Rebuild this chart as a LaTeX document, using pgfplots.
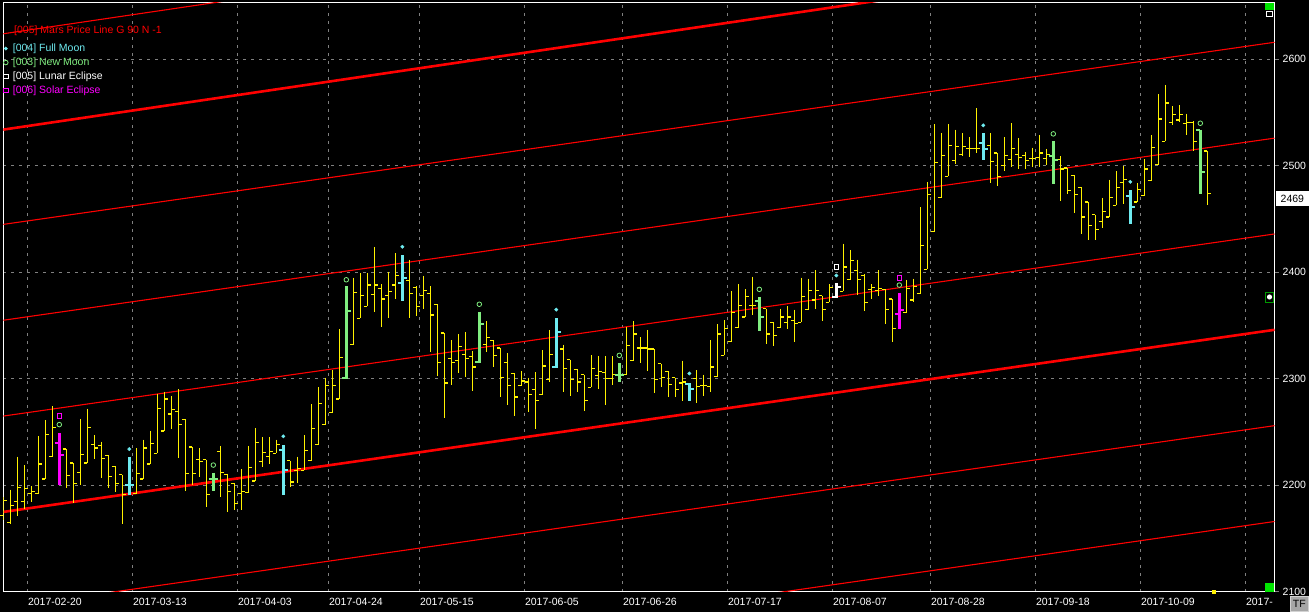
\documentclass[border=0pt]{standalone}
\usepackage{fontspec}
\setmainfont{Liberation Sans}
\usepackage{pgfplots}
\usepackage{pgfplotstable}
\pgfplotsset{compat=1.18}

\definecolor{fm}{RGB}{110,235,240}
\definecolor{nm}{RGB}{128,238,128}
\definecolor{mg}{RGB}{255,0,255}
\definecolor{gridgray}{RGB}{128,128,128}
\definecolor{uigreen}{RGB}{0,230,0}

% open / close ticks of an OHLC bar
\pgfdeclareplotmark{otick}{\pgfpathmoveto{\pgfqpoint{-\pgfplotmarksize}{0pt}}\pgfpathlineto{\pgfqpoint{0pt}{0pt}}\pgfusepathqstroke}
\pgfdeclareplotmark{ctick}{\pgfpathmoveto{\pgfqpoint{0pt}{0pt}}\pgfpathlineto{\pgfqpoint{\pgfplotmarksize}{0pt}}\pgfusepathqstroke}

% i = trading day, t: 0 plain, 1 full moon, 2 new moon, 3 solar eclipse, 4 lunar eclipse
\pgfplotstableread{
i o h l c t
0 2172 2189 2167 2186 0
1 2165 2196 2164 2181 0
2 2185 2227 2171 2198 0
3 2185 2219 2178 2197 0
4 2192 2199 2184 2194 0
5 2192 2246 2192 2220 0
6 2206 2261 2206 2248 0
7 2227 2274 2227 2254 0
8 2240 2249 2200 2228 3
9 2234 2234 2197 2209 0
10 2221 2221 2183 2202 0
11 2212 2262 2200 2229 0
12 2221 2272 2221 2254 0
13 2238 2247 2225 2235 0
14 2237 2241 2207 2225 0
15 2228 2228 2197 2208 0
16 2218 2218 2194 2202 0
17 2210 2210 2164 2191 0
18 2200 2227 2191 2200 1
19 2192 2235 2192 2211 0
20 2206 2243 2206 2235 0
21 2220 2251 2220 2239 0
22 2230 2286 2230 2272 0
23 2251 2288 2251 2281 0
24 2267 2284 2253 2271 0
25 2269 2290 2226 2257 0
26 2262 2262 2195 2211 0
27 2236 2236 2200 2211 0
28 2224 2235 2208 2222 0
29 2224 2224 2180 2191 0
30 2206 2212 2195 2206 2
31 2232 2237 2189 2212 0
32 2210 2211 2175 2194 0
33 2202 2202 2177 2183 0
34 2192 2215 2177 2194 0
35 2193 2237 2193 2217 0
36 2204 2254 2204 2240 0
37 2222 2245 2217 2231 0
38 2227 2245 2220 2232 0
39 2230 2243 2230 2238 0
40 2233 2238 2191 2214 1
41 2223 2223 2198 2203 0
42 2214 2227 2202 2216 0
43 2214 2247 2214 2233 0
44 2223 2276 2223 2253 0
45 2238 2292 2238 2277 0
46 2257 2301 2257 2294 0
47 2268 2308 2268 2294 0
48 2281 2347 2281 2320 0
49 2301 2387 2300 2364 2
50 2332 2395 2332 2381 0
51 2357 2399 2357 2378 0
52 2368 2399 2368 2388 0
53 2379 2424 2363 2388 0
54 2385 2389 2349 2375 0
55 2378 2400 2357 2382 0
56 2388 2418 2375 2397 0
57 2390 2416 2373 2395 1
58 2392 2412 2357 2380 0
59 2386 2387 2359 2368 0
60 2378 2397 2366 2383 0
61 2380 2387 2325 2360 0
62 2370 2370 2303 2315 0
63 2343 2343 2263 2296 0
64 2319 2336 2294 2315 0
65 2317 2342 2305 2330 0
66 2323 2344 2302 2319 0
67 2321 2326 2289 2311 0
68 2316 2363 2315 2351 2
69 2332 2354 2325 2339 0
70 2336 2336 2311 2322 0
71 2329 2329 2283 2301 0
72 2315 2324 2275 2294 0
73 2305 2305 2265 2283 0
74 2294 2307 2293 2298 0
75 2297 2301 2269 2285 0
76 2290 2306 2253 2280 0
77 2285 2327 2285 2312 0
78 2299 2346 2297 2323 0
79 2311 2357 2310 2344 1
80 2328 2332 2288 2310 0
81 2318 2318 2284 2299 0
82 2309 2309 2288 2297 0
83 2304 2304 2270 2280 0
84 2292 2322 2292 2310 0
85 2303 2321 2290 2307 0
86 2306 2321 2275 2300 0
87 2300 2321 2294 2304 0
88 2304 2315 2297 2304 2
89 2304 2349 2304 2331 0
90 2317 2354 2317 2342 0
91 2329 2339 2315 2329 0
92 2329 2346 2307 2328 0
93 2328 2328 2287 2299 0
94 2314 2314 2292 2301 0
95 2307 2307 2283 2295 0
96 2301 2301 2283 2290 0
97 2296 2317 2279 2297 0
98 2295 2296 2279 2290 1
99 2300 2308 2277 2293 0
100 2294 2304 2284 2294 0
101 2293 2336 2288 2311 0
102 2302 2351 2302 2342 0
103 2322 2355 2322 2347 0
104 2335 2382 2335 2362 0
105 2348 2389 2348 2369 0
106 2358 2384 2358 2377 0
107 2369 2396 2360 2369 0
108 2373 2377 2345 2358 2
109 2366 2366 2333 2342 0
110 2353 2353 2331 2341 0
111 2348 2366 2348 2358 0
112 2353 2368 2347 2358 0
113 2355 2365 2335 2352 0
114 2353 2395 2353 2377 0
115 2365 2394 2365 2383 0
116 2374 2402 2366 2383 0
117 2378 2378 2354 2365 0
118 2372 2389 2372 2386 0
119 2377 2390 2376 2386 4
120 2382 2427 2382 2405 0
121 2393 2421 2393 2411 0
122 2402 2412 2379 2393 0
123 2397 2398 2364 2372 0
124 2384 2389 2375 2386 0
125 2383 2402 2378 2385 0
126 2384 2384 2351 2365 0
127 2375 2375 2335 2347 0
128 2361 2381 2347 2365 3
129 2362 2393 2362 2385 0
130 2374 2394 2372 2387 0
131 2380 2461 2380 2425 0
132 2403 2485 2403 2473 0
133 2438 2539 2438 2503 0
134 2470 2531 2470 2510 0
135 2490 2539 2490 2519 0
136 2505 2534 2502 2518 0
137 2511 2531 2509 2518 0
138 2516 2527 2508 2516 0
139 2516 2554 2512 2516 0
140 2521 2531 2505 2516 1
141 2519 2531 2484 2504 0
142 2512 2512 2481 2490 0
143 2500 2527 2495 2510 0
144 2506 2540 2499 2516 0
145 2511 2526 2497 2508 0
146 2510 2513 2497 2505 0
147 2507 2517 2499 2507 0
148 2508 2529 2499 2512 0
149 2507 2516 2501 2511 0
150 2509 2523 2483 2505 2
151 2506 2509 2467 2497 0
152 2498 2498 2474 2477 0
153 2491 2491 2456 2473 0
154 2480 2480 2436 2452 0
155 2466 2466 2430 2444 0
156 2454 2454 2430 2440 0
157 2448 2470 2442 2457 0
158 2452 2487 2452 2470 0
159 2463 2495 2463 2480 0
160 2484 2500 2464 2487 0
161 2472 2477 2445 2461 1
162 2466 2484 2466 2478 0
163 2472 2506 2472 2497 0
164 2486 2529 2486 2517 0
165 2501 2567 2501 2544 0
166 2523 2576 2523 2559 0
167 2541 2556 2538 2548 0
168 2543 2557 2541 2548 0
169 2540 2549 2529 2541 0
170 2541 2542 2514 2523 0
171 2534 2534 2474 2494 2
172 2514 2514 2463 2474 0
}\ohlc

\pgfplotstableread{
i y
18 2234
40 2246
57 2424
79 2365
98 2305
119 2397
140 2538
161 2485
}\fullmoon

\pgfplotstableread{
i y
8 2257
30 2219
49 2393
68 2370
88 2322
108 2384
128 2388
150 2530
171 2540
}\newmoon

\pgfplotstableread{
i y
119 2405
}\lunar

\pgfplotstableread{
i y
8 2265
128 2395
}\solar

% type, colour, bar width, tick width, tick length
\newcommand\ohlcbars[5]{%
  \addplot[draw=none, mark=none, forget plot,
    restrict expr to domain={\thisrow{t}}{#1:#1},
    error bars/.cd, y dir=minus, y explicit, error mark=none,
    error bar style={draw=#2, line width=#3, solid}]
    table[x=i, y=h, y error expr=\thisrow{h}-\thisrow{l}] {\ohlc};
  \addplot[#2, only marks, mark=otick, mark size=#5, line width=#4, forget plot,
    restrict expr to domain={\thisrow{t}}{#1:#1}]
    table[x=i, y=o] {\ohlc};
  \addplot[#2, only marks, mark=ctick, mark size=#5, line width=#4, forget plot,
    restrict expr to domain={\thisrow{t}}{#1:#1}]
    table[x=i, y=c] {\ohlc};
}

\newcommand\chartfont{\fontsize{10.5bp}{12.5bp}\selectfont}

\begin{document}
\begin{tikzpicture}
\useasboundingbox (0,0) rectangle (1309bp,612bp);
\fill[black] (0,0) rectangle (1309bp,612bp);
\begin{axis}[
  name=main,
  at={(3.3bp,20bp)}, anchor=south west,
  scale only axis, width=1271.2bp, height=589bp,
  xmin=0, xmax=181.6, ymin=2099.8, ymax=2652.9,
  axis line style={white, line width=1bp},
  xtick={3.43,18.43,33.43,46.43,59.43,74.43,88.43,103.43,118.43,132.43,147.43,162.43,177.43},
  xticklabels={2017-02-20,2017-03-13,2017-04-03,2017-04-24,2017-05-15,2017-06-05,2017-06-26,2017-07-17,2017-08-07,2017-08-28,2017-09-18,2017-10-09,2017-},
  ytick={2100,2200,2300,2400,2500,2600},
  ytick pos=right, yticklabel pos=right,
  xtick style={draw=none},
  ytick style={gridgray, line width=0.8bp},
  major tick length=4bp, tick align=outside,
  grid=major,
  major grid style={gridgray, line width=0.8bp, dash pattern=on 3bp off 5bp},
  tick label style={text=white, font=\chartfont},
  xticklabel style={anchor=north west, inner sep=0pt, yshift=-2bp, xshift=0.5bp},
  yticklabel style={anchor=west, inner sep=0pt, xshift=4bp},
  /pgf/number format/assume math mode=true,
  /pgf/number format/1000 sep={},
  legend style={at={(0,1)}, anchor=north west, yshift=-40bp, xshift=0bp,
    draw=none, fill=none, text=white, font=\chartfont,
    inner sep=0pt, row sep=3.3bp, nodes={inner sep=0.8bp},
    /tikz/every odd column/.append style={column sep=4bp}},
  legend cell align=left,
  legend image code/.code={\draw[#1] plot coordinates {(0bp,0bp)};},
]
% Mars price lines, 90 points apart
\addplot[red, line width=1.1bp, forget plot] coordinates {(0,1995) (181.6,2166)};
\addplot[red, line width=1.1bp, forget plot] coordinates {(0,2085) (181.6,2256)};
\addplot[red, line width=2.6bp, forget plot] coordinates {(0,2175) (181.6,2346)};
\addplot[red, line width=1.1bp, forget plot] coordinates {(0,2265) (181.6,2436)};
\addplot[red, line width=1.1bp, forget plot] coordinates {(0,2355) (181.6,2526)};
\addplot[red, line width=1.1bp, forget plot] coordinates {(0,2445) (181.6,2616)};
\addplot[red, line width=2.6bp, forget plot] coordinates {(0,2534) (181.6,2710)};
\addplot[red, line width=1.1bp, forget plot] coordinates {(0,2624) (181.6,2800)};

\ohlcbars{0}{yellow}{1.2bp}{1.2bp}{3.5bp}
\ohlcbars{1}{fm}{3bp}{2bp}{4.5bp}
\ohlcbars{2}{nm}{3bp}{2bp}{4.5bp}
\ohlcbars{3}{mg}{3bp}{2bp}{4.5bp}
\ohlcbars{4}{white}{3bp}{2bp}{4.5bp}

\addplot[fm, only marks, mark=*, mark size=1.7bp, forget plot] table[x=i, y=y] {\fullmoon};
\addplot[nm, only marks, mark=o, mark size=2.3bp, line width=0.8bp, forget plot] table[x=i, y=y] {\newmoon};
\addplot[white, only marks, mark=square, mark size=2.3bp, line width=0.8bp, forget plot] table[x=i, y=y] {\lunar};
\addplot[mg, only marks, mark=square, mark size=2.3bp, line width=0.8bp, forget plot] table[x=i, y=y] {\solar};

\addlegendimage{only marks, mark=*, mark size=1.7bp, fm}
\addlegendentry{\textcolor{fm}{[004] Full Moon}}
\addlegendimage{only marks, mark=o, mark size=2.3bp, line width=0.8bp, nm}
\addlegendentry{\textcolor{nm}{[003] New Moon}}
\addlegendimage{only marks, mark=square, mark size=2.3bp, line width=0.8bp, white}
\addlegendentry{\textcolor{white}{[005] Lunar Eclipse}}
\addlegendimage{only marks, mark=square, mark size=2.3bp, line width=0.8bp, mg}
\addlegendentry{\textcolor{mg}{[006] Solar Eclipse}}

\coordinate (lastprice) at (axis cs:181.6,2469);
\end{axis}
% title of the price-line study
\node[anchor=west, text=red, font=\chartfont, inner sep=0pt]
  at ([xshift=10.7bp, yshift=-28bp]main.north west) {[005] Mars Price Line G 90 N -1};
% last price box and terminal widgets
\node[fill=white, text=black, font=\chartfont, inner xsep=4.5bp, inner ysep=0pt,
  minimum height=15bp, anchor=west] at ([xshift=1.5bp]lastprice) {2469};
\fill[uigreen] (1265bp,602bp) rectangle (1274bp,609bp);
\draw[white, fill=black, line width=0.8bp] (1266.5bp,595.5bp) rectangle (1272.5bp,600.5bp);
\fill[uigreen] (1265bp,20bp) rectangle (1274bp,29bp);
\draw[green!60!black, fill=black, line width=0.8bp] (1265.5bp,310bp) rectangle (1273.5bp,320bp);
\fill[white] (1269.5bp,315bp) circle (2.6bp);
\fill[yellow] (1212bp,18bp) rectangle (1216bp,22bp);
\node[fill=gray!70, draw=gray!35, text=black, font=\chartfont, inner sep=0pt,
  minimum width=18bp, minimum height=15bp, anchor=south east] at (1308.5bp,0.5bp) {TF};
\end{tikzpicture}
\end{document}
